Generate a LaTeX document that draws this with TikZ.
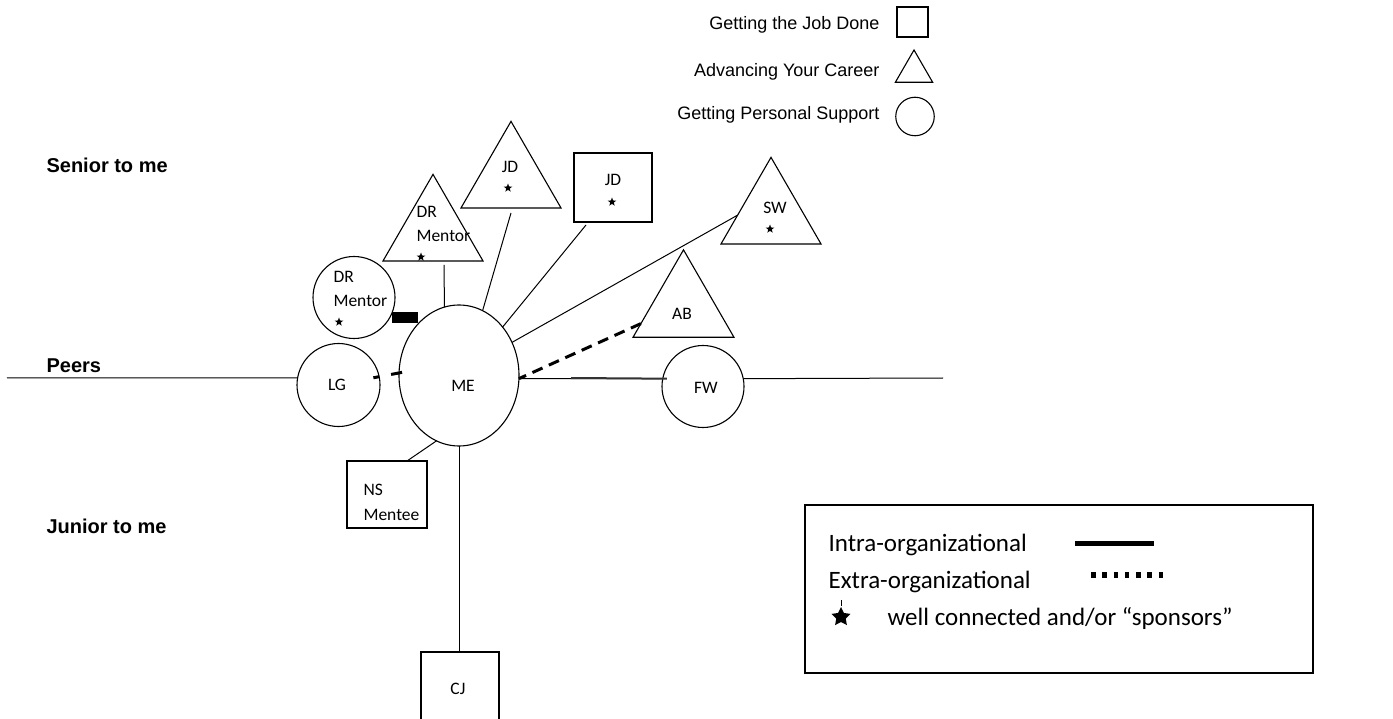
\documentclass[tikz,border=0pt]{standalone}
\usepackage{fontspec}
\setmainfont{Liberation Sans}
\newfontfamily\calib{Carlito}
\usetikzlibrary{shapes.geometric}
\begin{document}
\begin{tikzpicture}[x=1pt,y=-1pt,line width=1.1pt,
  tri/.style={regular polygon,regular polygon sides=3,draw,minimum size=115.5pt,inner sep=0pt,outer sep=0pt},
  circ/.style={circle,draw,minimum size=83pt,inner sep=0pt,outer sep=0pt},
  box/.style={rectangle,draw,inner sep=0pt,outer sep=0pt},
  lbl/.style={font=\calib\fontsize{17.5}{20}\selectfont,inner sep=0pt},
  toplbl/.style={font=\fontsize{18}{21}\selectfont,inner sep=0pt},
  sidelbl/.style={font=\bfseries\fontsize{20}{23}\selectfont,inner sep=0pt},
  leglbl/.style={font=\calib\fontsize{25}{30}\selectfont,inner sep=0pt},
  smstar/.style={star,star points=5,star point ratio=2.4,fill=black,draw=none,minimum size=9pt,inner sep=0pt},
  conn/.style={line width=1pt},
  intra/.style={line width=2pt,black!80},
  extra/.style={line width=3pt,dash pattern=on 11pt off 7pt}
]
\useasboundingbox (0,0) rectangle (1393,719);
\clip (0,0) rectangle (1393,719);

% top legend
\node[box,minimum width=31pt,minimum height=30pt] (legsq) at (912.5,22) {};
\node[tri,minimum size=43pt] (legtri) at (914,71.5) {};
\node[circ,minimum size=38.5pt] (legcirc) at (915,116.5) {};
\node[toplbl,anchor=base east] (t1) at (880,30) {Getting the Job Done};
\node[toplbl,anchor=base east] (t2) at (880,77) {Advancing Your Career};
\node[toplbl,anchor=base east] (t3) at (880,120) {Getting Personal Support};

% side labels
\node[sidelbl,anchor=base west] (senior) at (46,173) {Senior to me};
\node[sidelbl,anchor=base west] (peers) at (46,373) {Peers};
\node[sidelbl,anchor=base west] (junior) at (46,533) {Junior to me};

% shapes
\node[tri] (drtri) at (433,232.1) {};
\node[tri] (jdtri) at (511,179.1) {};
\node[box,minimum width=78pt,minimum height=69pt] (jdsq) at (613,187.5) {};
\node[tri] (swtri) at (771,215.1) {};
\node[tri,minimum size=116.5pt] (abtri) at (683.5,308.1) {};
\node[circ,minimum size=82pt] (drcirc) at (354,297.5) {};
\node[circ] (lg) at (338.5,385) {};
\node[ellipse,draw,minimum width=120pt,minimum height=141pt,inner sep=0pt,outer sep=0pt] (me) at (459,375.5) {};
\node[circ,minimum size=82pt] (fw) at (703,386.5) {};
\node[box,minimum width=80pt,minimum height=67pt] (ns) at (387,494.5) {};
\node[box,minimum width=78pt,minimum height=72pt] (cj) at (460,688) {};
\node[fill=black,draw=none,minimum width=26pt,minimum height=11pt,inner sep=0pt] (blk) at (405,317.5) {};

% labels
\node[lbl,anchor=base west] (drc1) at (333,282.5) {DR};
\node[lbl,anchor=base west] (drc2) at (333,306.5) {Mentor};
\node[smstar] (s1) at (339,322) {};
\node[lbl,anchor=base west] (drt1) at (416,217.5) {DR};
\node[lbl,anchor=base west] (drt2) at (416,241.5) {Mentor};
\node[smstar] (s2) at (421,257) {};
\node[lbl,anchor=base] (jdt) at (510,172.5) {JD};
\node[smstar] (s3) at (508,188) {};
\node[lbl,anchor=base] (jds) at (613,185.5) {JD};
\node[smstar] (s4) at (612,202) {};
\node[lbl,anchor=base] (sw) at (775,213.5) {SW};
\node[smstar] (s5) at (770,229) {};
\node[lbl,anchor=base] (ab) at (682,319.5) {AB};
\node[lbl,anchor=base] (lgt) at (337,390.5) {LG};
\node[lbl,anchor=base] (met) at (463,391.5) {ME};
\node[lbl,anchor=base] (fwt) at (706,393.5) {FW};
\node[lbl,anchor=base west] (ns1) at (363,495.5) {NS};
\node[lbl,anchor=base west] (ns2) at (363,520.5) {Mentee};
\node[lbl,anchor=base] (cjt) at (458,694.5) {CJ};

% connectors
\coordinate (leftend) at (7,378);
\coordinate (rightend) at (943,378);
\coordinate (thickstart) at (571,378);
\draw[conn] (leftend) -- (lg.170);
\draw[line width=3pt,dash pattern=on 6pt off 12pt on 12pt off 20pt] ([xshift=-6pt]lg.10) -- ([xshift=3pt]me.177);
\draw[conn] (me.-3) -- (fw.169);
\draw[intra] (thickstart) -- ([xshift=4pt]fw.169);
\draw[conn] (fw.11) -- (rightend);
\draw[extra] (abtri.200) -- (me.-3);
\draw[conn] ([xshift=11pt,yshift=-4pt]drtri.south) -- (me.102);
\draw[conn] ([yshift=-5pt]jdtri.south) -- (me.70);
\draw[conn] ([xshift=12pt,yshift=-3pt]jdsq.south west) -- (me.48);
\draw[conn] (swtri.180) -- (me.32);
\draw[conn] ([xshift=-20pt]ns.north east) -- (me.251);
\draw[conn] (me.south) -- (me.south |- cj.north);

% bottom legend
\node[draw,line width=1.5pt,minimum width=508pt,minimum height=168pt,inner sep=0pt] (legbox) at (1059,589) {};
\node[leglbl,anchor=base west] (intra) at (828,551) {Intra-organizational};
\node[leglbl,anchor=base west] (extra) at (828,588) {Extra-organizational};
\node[leglbl,anchor=base west] (wellc) at (887,625) {well connected and/or “sponsors”};
\coordinate (ia) at (1075,543);
\coordinate (ib) at (1154,543);
\draw[line width=5pt] (ia) -- (ib);
\coordinate (ea) at (1091,575);
\coordinate (eb) at (1163,575);
\draw[line width=5.5pt,dash pattern=on 4.5pt off 6.75pt] (ea) -- (eb);
\node[star,star points=5,star point ratio=2,fill=black,draw=none,minimum size=20pt,inner sep=0pt] (bigstar) at (841,617) {};
\draw[line width=1pt] (bigstar.north) -- ++(0,-6);
\end{tikzpicture}
\end{document}
